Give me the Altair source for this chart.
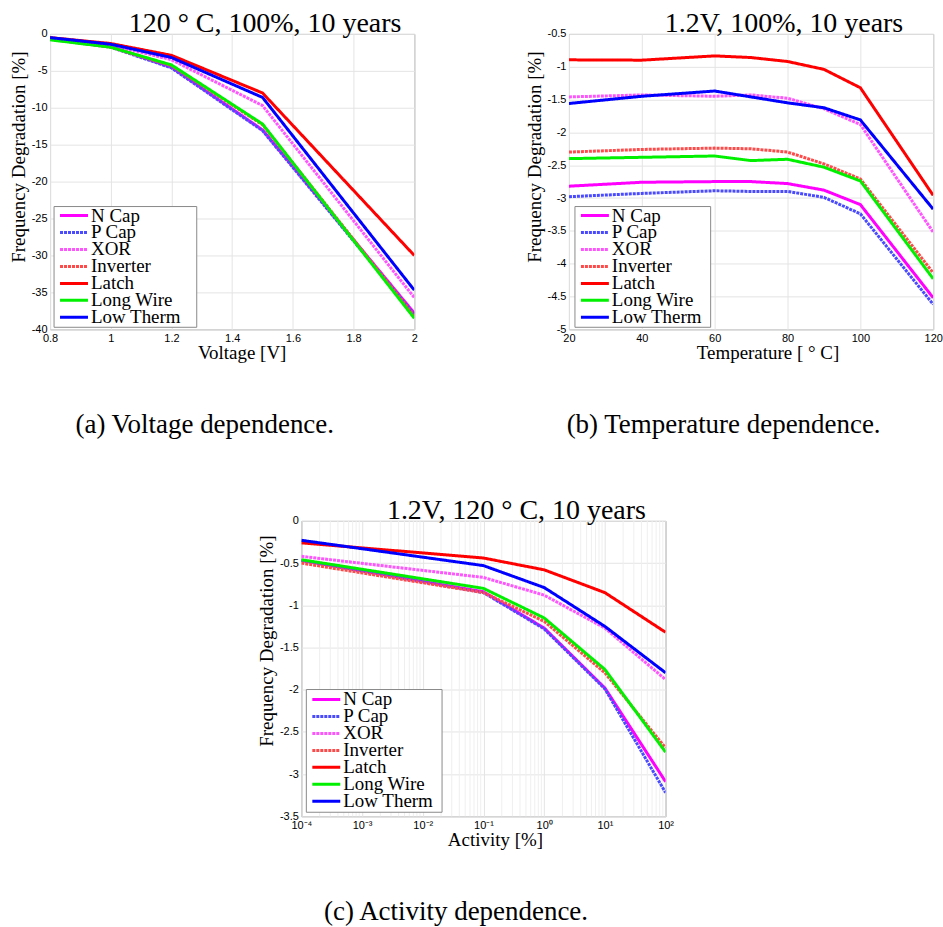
import altair as alt
import pandas as pd

names = ["N Cap", "P Cap", "XOR", "Inverter", "Latch", "Long Wire", "Low Therm"]
colors = ["#ff00ff", "#4a4aff", "#ff55ff", "#ff4a4a", "#ff0000", "#00f000", "#0000ff"]
dashes = [[1, 0], [3, 1], [3, 1], [3, 1], [1, 0], [1, 0], [1, 0]]

# (a) voltage dependence
volt = [0.8, 1.0, 1.2, 1.5, 2.0]
a_ncap = [-0.7, -1.7, -4.5, -13.0, -37.8]
a_pcap = [-0.7, -1.8, -4.6, -13.1, -38.0]
a_xor = [-0.6, -1.5, -3.5, -9.7, -35.7]
a_inv = [-0.7, -1.8, -4.3, -12.3, -38.2]
a_latch = [-0.5, -1.3, -2.9, -8.0, -30.0]
a_wire = [-0.8, -1.8, -4.2, -12.2, -38.5]
a_therm = [-0.5, -1.4, -3.2, -8.6, -34.7]

# (b) temperature dependence
temp = [20, 40, 60, 70, 80, 90, 100, 120]
b_ncap = [-2.82, -2.76, -2.75, -2.75, -2.78, -2.88, -3.10, -4.52]
b_pcap = [-2.98, -2.93, -2.89, -2.90, -2.90, -2.99, -3.24, -4.62]
b_xor = [-1.46, -1.43, -1.45, -1.43, -1.48, -1.64, -1.88, -3.52]
b_inv = [-2.30, -2.26, -2.24, -2.25, -2.30, -2.48, -2.71, -4.14]
b_latch = [-0.895, -0.90, -0.835, -0.86, -0.92, -1.04, -1.32, -2.96]
b_wire = [-2.40, -2.38, -2.36, -2.43, -2.41, -2.53, -2.74, -4.23]
b_therm = [-1.56, -1.45, -1.37, -1.46, -1.55, -1.625, -1.81, -3.17]

# (c) activity dependence
act = [1e-4, 1e-1, 1, 10, 100]
c_ncap = [-0.47, -0.84, -1.27, -1.98, -3.09]
c_pcap = [-0.47, -0.85, -1.28, -1.99, -3.22]
c_xor = [-0.42, -0.67, -0.88, -1.27, -1.88]
c_inv = [-0.50, -0.85, -1.19, -1.80, -2.69]
c_latch = [-0.26, -0.44, -0.58, -0.85, -1.32]
c_wire = [-0.46, -0.80, -1.15, -1.76, -2.74]
c_therm = [-0.23, -0.53, -0.79, -1.25, -1.80]

a_ticks_x = [0.8, 1, 1.2, 1.4, 1.6, 1.8, 2]
a_ticks_y = [0, -5, -10, -15, -20, -25, -30, -35, -40]
b_ticks_x = [20, 40, 60, 80, 100, 120]
b_ticks_y = [-0.5, -1, -1.5, -2, -2.5, -3, -3.5, -4, -4.5, -5]
c_ticks_x = [1e-4, 1e-3, 1e-2, 1e-1, 1, 10, 100]
c_tick_text = ["10\u207b\u2074", "10\u207b\u00b3", "10\u207b\u00b2", "10\u207b\u00b9", "10\u2070", "10\u00b9", "10\u00b2"]
c_minor = [m * d for d in [1e-4, 1e-3, 1e-2, 1e-1, 1, 10] for m in range(2, 10)]
c_ticks_y = [0, -0.5, -1, -1.5, -2, -2.5, -3, -3.5]

SERIF = "Liberation Serif"
SANS = "Liberation Sans"
W, H = 365, 296
GRID = "#e4e4e4"
MINOR = "#efefef"

signed = "datum.value < 0 ? '-' + format(-datum.value, '~g') : format(datum.value, '~g')"


def long_df(xs, series):
    rows = []
    for n, ys in zip(names, series):
        for x, y in zip(xs, ys):
            rows.append({"series": n, "x": x, "y": y})
    return pd.DataFrame(rows)


color_enc = alt.Color("series:N", scale=alt.Scale(domain=names, range=colors), legend=None)
dash_enc = alt.StrokeDash("series:N", scale=alt.Scale(domain=names, range=dashes), legend=None)


def legend_layers(lx, ly, lw, lh, first):
    box = alt.Chart(pd.DataFrame({"k": [0]})).mark_rect(
        fill="white", stroke="#8a8a8a", strokeWidth=1
    ).encode(x=alt.value(lx), x2=alt.value(lx + lw), y=alt.value(ly), y2=alt.value(ly + lh))
    rows = alt.Chart(pd.DataFrame({"series": names}))
    ypos = alt.Y("series:N", axis=None,
                 scale=alt.Scale(type="point", domain=names, range=[ly + first, ly + first + 102], padding=0))
    sym = rows.mark_rule(strokeWidth=3).encode(
        x=alt.value(lx + 6), x2=alt.value(lx + 34), y=ypos, color=color_enc, strokeDash=dash_enc
    )
    lab = rows.mark_text(align="left", baseline="middle", font=SERIF, fontSize=19, color="black").encode(
        x=alt.value(lx + 37), y=ypos, text="series:N"
    )
    return [box, sym, lab]


def panel(df, xscale, xaxis, yscale, yaxis, title, caption, leg, extra=None):
    lines = alt.Chart(df).mark_line(strokeWidth=3, clip=True).encode(
        x=alt.X("x:Q", scale=xscale, axis=xaxis),
        y=alt.Y("y:Q", scale=yscale, axis=yaxis),
        color=color_enc,
        strokeDash=dash_enc,
    )
    cap = alt.Chart(pd.DataFrame({"t": [caption]})).mark_text(
        font=SERIF, fontSize=27, color="black", align="center", baseline="middle"
    ).encode(text="t:N", x=alt.value(155), y=alt.value(392))
    layers = (extra or []) + [lines, cap] + legend_layers(*leg)
    return alt.layer(*layers).resolve_scale(y="independent").properties(
        width=W, height=H,
        title=alt.TitleParams(title, font=SERIF, fontSize=28, fontWeight="normal", color="black",
                              anchor="middle", frame="group", dx=33, offset=-10),
    )


def yaxis(vals, ty):
    return alt.Axis(values=vals, title="Frequency Degradation [%]", labelExpr=signed,
                    titleY=ty, titlePadding=3)


pa = panel(
    long_df(volt, [a_ncap, a_pcap, a_xor, a_inv, a_latch, a_wire, a_therm]),
    alt.Scale(domain=[0.8, 2], nice=False, zero=False),
    alt.Axis(values=a_ticks_x, title="Voltage [V]", labelExpr=signed, titleX=192),
    alt.Scale(domain=[-40, 0], nice=False),
    yaxis(a_ticks_y, 123),
    "120 \u00b0 C, 100%, 10 years", "(a) Voltage dependence.", (4, 173, 143, 121, 9),
)

pb = panel(
    long_df(temp, [b_ncap, b_pcap, b_xor, b_inv, b_latch, b_wire, b_therm]),
    alt.Scale(domain=[20, 120], nice=False, zero=False),
    alt.Axis(values=b_ticks_x, title="Temperature [ \u00b0 C]", labelExpr=signed, titleX=199),
    alt.Scale(domain=[-5, -0.5], nice=False, zero=False),
    yaxis(b_ticks_y, 123),
    "1.2V, 100%, 10 years", "(b) Temperature dependence.", (6, 173, 136, 121, 9),
)

c_label = "[" + ",".join(f"'{t}'" for t in c_tick_text) + "][round(log(datum.value) / LN10) + 4]"
c_xaxis = alt.Axis(values=c_ticks_x, title="Activity [%]", titleX=194, labelExpr=c_label,
                   labelOverlap=False)
c_xscale = alt.Scale(type="log", domain=[1e-4, 100], nice=False)
minor = alt.Chart(pd.DataFrame({"x": c_minor})).mark_rule(color=MINOR, strokeWidth=1).encode(
    x=alt.X("x:Q", scale=c_xscale, axis=c_xaxis)
)
ghost = alt.Chart(pd.DataFrame({"t": ["."]})).mark_text(opacity=0, fontSize=11).encode(
    text="t:N", x=alt.value(W + 24), y=alt.value(H + 10)
)
pc = panel(
    long_df(act, [c_ncap, c_pcap, c_xor, c_inv, c_latch, c_wire, c_therm]),
    c_xscale, c_xaxis,
    alt.Scale(domain=[-3.5, 0], nice=False, zero=False),
    yaxis(c_ticks_y, 120),
    "1.2V, 120 \u00b0 C, 10 years", "(c) Activity dependence.", (5, 169, 136, 123, 10),
    extra=[minor, ghost],
)

chart = alt.vconcat(
    alt.hconcat(pa, pb, spacing=106),
    pc, spacing=57, center=True,
).properties(
    padding={"left": 8, "top": 8, "right": 0, "bottom": 0}, background="white"
).configure_view(
    stroke="#8c8c8c", strokeWidth=1
).configure_axis(
    labelFont=SANS, labelFontSize=11, labelColor="black", labelPadding=3, labelFlush=False,
    titleFont=SERIF, titleFontSize=19, titleFontWeight="normal", titleColor="black",
    grid=True, gridColor=GRID, gridWidth=1, domain=False, ticks=False,
).configure_axisX(titlePadding=0)

chart.save("out.html", embed_options={"renderer": "svg", "actions": False})
